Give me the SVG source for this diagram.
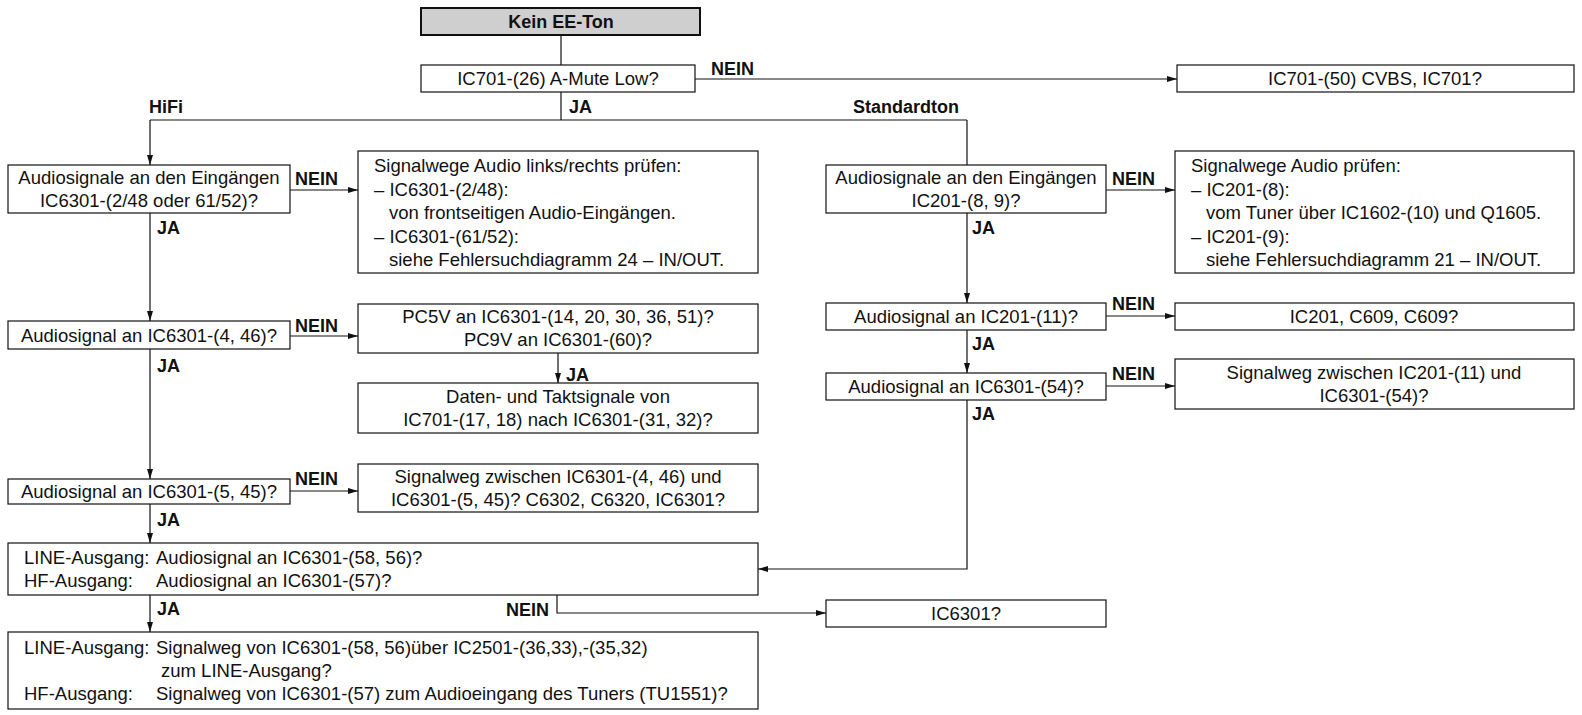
<svg xmlns="http://www.w3.org/2000/svg" width="1582" height="715" viewBox="0 0 1582 715">
<style>
.box{fill:#fff;stroke:#111;stroke-width:1.2}
.start{fill:#cfcfcf;stroke:#111;stroke-width:2}
.t{font-family:"Liberation Sans",Arial,sans-serif;font-size:18.5px;fill:#111}
.c{text-anchor:middle}
.b{font-family:"Liberation Sans",Arial,sans-serif;font-size:18px;font-weight:bold;fill:#111}
.ln{fill:none;stroke:#111;stroke-width:1.2}
</style>
<defs>
<marker id="ah" viewBox="0 0 10 6" refX="10" refY="3" markerWidth="10" markerHeight="6" markerUnits="userSpaceOnUse" orient="auto"><path d="M0,0 L10,3 L0,6 z" fill="#111"/></marker>
</defs>
<g id="connectors">
<path class="ln" d="M561,35 V65"/>
<path class="ln" d="M695,79 H1177" marker-end="url(#ah)"/>
<path class="ln" d="M561,92 V120 M150,120 H967"/>
<path class="ln" d="M150,120 V165" marker-end="url(#ah)"/>
<path class="ln" d="M967,120 V165"/>
<path class="ln" d="M290,190 H358" marker-end="url(#ah)"/>
<path class="ln" d="M1106,190 H1175" marker-end="url(#ah)"/>
<path class="ln" d="M150,213 V321" marker-end="url(#ah)"/>
<path class="ln" d="M290,336 H358" marker-end="url(#ah)"/>
<path class="ln" d="M558,353 V383" marker-end="url(#ah)"/>
<path class="ln" d="M150,349 V479" marker-end="url(#ah)"/>
<path class="ln" d="M290,491 H358" marker-end="url(#ah)"/>
<path class="ln" d="M150,504 V543" marker-end="url(#ah)"/>
<path class="ln" d="M150,595 V632" marker-end="url(#ah)"/>
<path class="ln" d="M557,595 V613 H826" marker-end="url(#ah)"/>
<path class="ln" d="M967,213 V303" marker-end="url(#ah)"/>
<path class="ln" d="M1106,316 H1175" marker-end="url(#ah)"/>
<path class="ln" d="M967,330 V373" marker-end="url(#ah)"/>
<path class="ln" d="M1106,386 H1175" marker-end="url(#ah)"/>
<path class="ln" d="M967,400 V569 H758" marker-end="url(#ah)"/>
<text class="b" x="711" y="75">NEIN</text>
<text class="b" x="569" y="113">JA</text>
<text class="b" x="149" y="113">HiFi</text>
<text class="b" x="853" y="113">Standardton</text>
<text class="b" x="295" y="185">NEIN</text>
<text class="b" x="157" y="234">JA</text>
<text class="b" x="1112" y="185">NEIN</text>
<text class="b" x="972" y="234">JA</text>
<text class="b" x="295" y="332">NEIN</text>
<text class="b" x="157" y="372">JA</text>
<text class="b" x="566" y="381">JA</text>
<text class="b" x="1112" y="310">NEIN</text>
<text class="b" x="972" y="350">JA</text>
<text class="b" x="1112" y="380">NEIN</text>
<text class="b" x="972" y="420">JA</text>
<text class="b" x="295" y="485">NEIN</text>
<text class="b" x="157" y="526">JA</text>
<text class="b" x="157" y="615">JA</text>
<text class="b" x="506" y="616">NEIN</text>
</g>
<g id="n-start"><rect class="start" x="421" y="8" width="279" height="27"/><text class="b c" x="561" y="28">Kein EE-Ton</text></g>
<g id="n-mute"><rect class="box" x="421" y="65" width="274" height="27"/><text class="t c" x="558" y="85">IC701-(26) A-Mute Low?</text></g>
<g id="n-cvbs"><rect class="box" x="1177" y="65" width="397" height="27"/><text class="t c" x="1375" y="85">IC701-(50) CVBS, IC701?</text></g>
<g id="n-hifi-in"><rect class="box" x="8" y="165" width="282" height="48"/><text class="t c" x="149" y="184">Audiosignale an den Eingängen</text><text class="t c" x="149" y="207">IC6301-(2/48 oder 61/52)?</text></g>
<g id="n-hifi-path"><rect class="box" x="358" y="151" width="400" height="122"/>
<text class="t" x="374" y="172">Signalwege Audio links/rechts prüfen:</text>
<text class="t" x="374" y="196">– IC6301-(2/48):</text>
<text class="t" x="389" y="219">von frontseitigen Audio-Eingängen.</text>
<text class="t" x="374" y="243">– IC6301-(61/52):</text>
<text class="t" x="389" y="266">siehe Fehlersuchdiagramm 24 – IN/OUT.</text></g>
<g id="n-std-in"><rect class="box" x="826" y="165" width="280" height="48"/><text class="t c" x="966" y="184">Audiosignale an den Eingängen</text><text class="t c" x="966" y="207">IC201-(8, 9)?</text></g>
<g id="n-std-path"><rect class="box" x="1175" y="151" width="399" height="122"/>
<text class="t" x="1191" y="172">Signalwege Audio prüfen:</text>
<text class="t" x="1191" y="196">– IC201-(8):</text>
<text class="t" x="1206" y="219">vom Tuner über IC1602-(10) und Q1605.</text>
<text class="t" x="1191" y="243">– IC201-(9):</text>
<text class="t" x="1206" y="266">siehe Fehlersuchdiagramm 21 – IN/OUT.</text></g>
<g id="n-446"><rect class="box" x="8" y="321" width="282" height="28"/><text class="t c" x="149" y="342">Audiosignal an IC6301-(4, 46)?</text></g>
<g id="n-pc5v"><rect class="box" x="358" y="304" width="400" height="49"/><text class="t c" x="558" y="323">PC5V an IC6301-(14, 20, 30, 36, 51)?</text><text class="t c" x="558" y="346">PC9V an IC6301-(60)?</text></g>
<g id="n-daten"><rect class="box" x="358" y="383" width="400" height="50"/><text class="t c" x="558" y="403">Daten- und Taktsignale von</text><text class="t c" x="558" y="426">IC701-(17, 18) nach IC6301-(31, 32)?</text></g>
<g id="n-ic201-11"><rect class="box" x="826" y="303" width="280" height="27"/><text class="t c" x="966" y="323">Audiosignal an IC201-(11)?</text></g>
<g id="n-c609"><rect class="box" x="1175" y="303" width="399" height="27"/><text class="t c" x="1374" y="323">IC201, C609, C609?</text></g>
<g id="n-54"><rect class="box" x="826" y="373" width="280" height="27"/><text class="t c" x="966" y="393">Audiosignal an IC6301-(54)?</text></g>
<g id="n-54-path"><rect class="box" x="1175" y="359" width="399" height="50"/><text class="t c" x="1374" y="379">Signalweg zwischen IC201-(11) und</text><text class="t c" x="1374" y="402">IC6301-(54)?</text></g>
<g id="n-545"><rect class="box" x="8" y="479" width="282" height="25"/><text class="t c" x="149" y="498">Audiosignal an IC6301-(5, 45)?</text></g>
<g id="n-545-path"><rect class="box" x="358" y="464" width="400" height="48"/><text class="t c" x="558" y="483">Signalweg zwischen IC6301-(4, 46) und</text><text class="t c" x="558" y="506">IC6301-(5, 45)? C6302, C6320, IC6301?</text></g>
<g id="n-out"><rect class="box" x="8" y="543" width="750" height="52"/><text class="t" x="24" y="564">LINE-Ausgang:</text><text class="t" x="156" y="564">Audiosignal an IC6301-(58, 56)?</text><text class="t" x="24" y="587">HF-Ausgang:</text><text class="t" x="156" y="587">Audiosignal an IC6301-(57)?</text></g>
<g id="n-ic6301"><rect class="box" x="826" y="600" width="280" height="27"/><text class="t c" x="966" y="620">IC6301?</text></g>
<g id="n-final"><rect class="box" x="8" y="632" width="750" height="77"/><text class="t" x="24" y="654">LINE-Ausgang:</text><text class="t" x="156" y="654">Signalweg von IC6301-(58, 56)über IC2501-(36,33),-(35,32)</text><text class="t" x="161" y="677">zum LINE-Ausgang?</text><text class="t" x="24" y="700">HF-Ausgang:</text><text class="t" x="156" y="700">Signalweg von IC6301-(57) zum Audioeingang des Tuners (TU1551)?</text></g>
</svg>
